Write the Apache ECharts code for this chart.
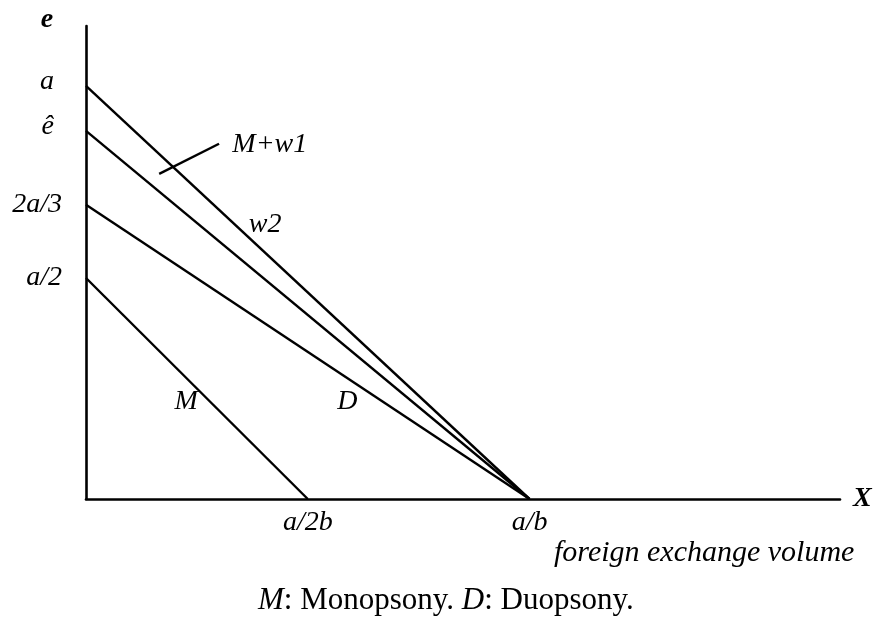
<!DOCTYPE html>
<html>
<head>
<meta charset="utf-8">
<script src="https://cdn.jsdelivr.net/npm/echarts@6/dist/echarts.min.js"></script>
<style>
  html, body { margin: 0; padding: 0; background: #fff; }
  #chart { width: 883px; height: 618px; }
</style>
</head>
<body>
<div id="chart"></div>
<script>
  // intercepts (a = 1, a/b = 1)
  const yTicks = [1, 0.891, 0.712, 0.535]
  const yTickLabels = ['a', 'ê', '2a/3', 'a/2']
  const xTicks = [0.5, 1]
  const xTickLabels = ['a/2b', 'a/b']

  // the four straight lines
  const lineMw1 = [[0, 1], [1, 0]]
  const lineW2 = [[0, 0.891], [1, 0]]
  const lineD = [[0, 0.712], [1, 0]]
  const lineM = [[0, 0.535], [0.5, 0]]
  // short pointer to the M+w1 line
  const pointer = [[0.165, 0.787], [0.300, 0.860]]

  // curve names and where they sit
  const curveLabels = [
    {name: 'M+w1', value: [0.330, 0.857], align: 'left'},
    {name: 'w2', value: [0.404, 0.663], align: 'center'},
    {name: 'M', value: [0.226, 0.235], align: 'center'},
    {name: 'D', value: [0.589, 0.235], align: 'center'}
  ]

  const font = 'Liberation Serif'
  const myChart = echarts.init(document.getElementById('chart'))

  function seg(data) {
    return {
      type: 'line',
      data: data,
      symbol: 'none',
      silent: true,
      lineStyle: {color: '#000', width: 2.4}
    }
  }

  const option = {
    backgroundColor: '#fff',
    animation: false,
    title: [
      {
        text: 'foreign exchange volume',
        left: 549,
        top: 533,
        textStyle: {fontFamily: font, fontSize: 30, fontStyle: 'italic', fontWeight: 'normal', color: '#000'}
      },
      {
        text: '{i|M}: Monopsony. {i|D}: Duopsony.',
        left: 253,
        top: 580,
        textStyle: {
          fontFamily: font, fontSize: 31, fontWeight: 'normal', color: '#000',
          rich: {
            i: {fontFamily: font, fontSize: 31, fontStyle: 'italic', color: '#000'}
          }
        }
      }
    ],
    grid: {left: 86, right: 43, top: 26, bottom: 119},
    xAxis: {
      type: 'value',
      min: 0,
      max: 1.7,
      name: 'X',
      nameLocation: 'end',
      nameGap: 13,
      nameTextStyle: {
        fontFamily: font, fontSize: 28, fontStyle: 'italic', fontWeight: 'bold', color: '#000',
        verticalAlign: 'middle', padding: [18, 0, 0, 0]
      },
      axisLine: {show: true, lineStyle: {color: '#000', width: 2.6}},
      axisTick: {show: false},
      splitLine: {show: false},
      axisLabel: {
        customValues: xTicks,
        formatter: function (v) {
          return xTickLabels[xTicks.indexOf(v)]
        },
        margin: 10,
        fontFamily: font, fontSize: 28, fontStyle: 'italic', color: '#000'
      }
    },
    yAxis: {
      type: 'value',
      min: 0,
      max: 1.145,
      name: 'e',
      nameLocation: 'end',
      nameGap: 6,
      nameTextStyle: {
        fontFamily: font, fontSize: 28, fontStyle: 'italic', fontWeight: 'bold', color: '#000',
        verticalAlign: 'middle', padding: [0, 78, 0, 0]
      },
      axisLine: {show: true, lineStyle: {color: '#000', width: 2.6}},
      axisTick: {show: false},
      splitLine: {show: false},
      axisLabel: {
        customValues: yTicks,
        formatter: function (v) {
          const i = yTicks.indexOf(v)
          return i < 2 ? '{s|' + yTickLabels[i] + '}' : yTickLabels[i]
        },
        margin: 24,
        align: 'right',
        fontFamily: font, fontSize: 28, fontStyle: 'italic', color: '#000',
        rich: {
          s: {fontFamily: font, fontSize: 28, fontStyle: 'italic', color: '#000', padding: [0, 8, 8, 0]}
        }
      }
    },
    series: [
      seg(lineMw1),
      seg(lineW2),
      seg(lineD),
      seg(lineM),
      seg(pointer),
      {
        type: 'scatter',
        symbolSize: 0,
        silent: true,
        itemStyle: {color: '#000', opacity: 1},
        data: curveLabels.map(function (d) {
          return {
            value: d.value,
            label: {
              show: true,
              position: 'inside',
              formatter: d.name,
              align: d.align,
              verticalAlign: 'middle',
              fontFamily: font, fontSize: 28, fontStyle: 'italic', color: '#000',
              textBorderWidth: 0, textBorderColor: 'transparent'
            }
          }
        })
      }
    ]
  }
  myChart.setOption(option)
</script>
</body>
</html>
